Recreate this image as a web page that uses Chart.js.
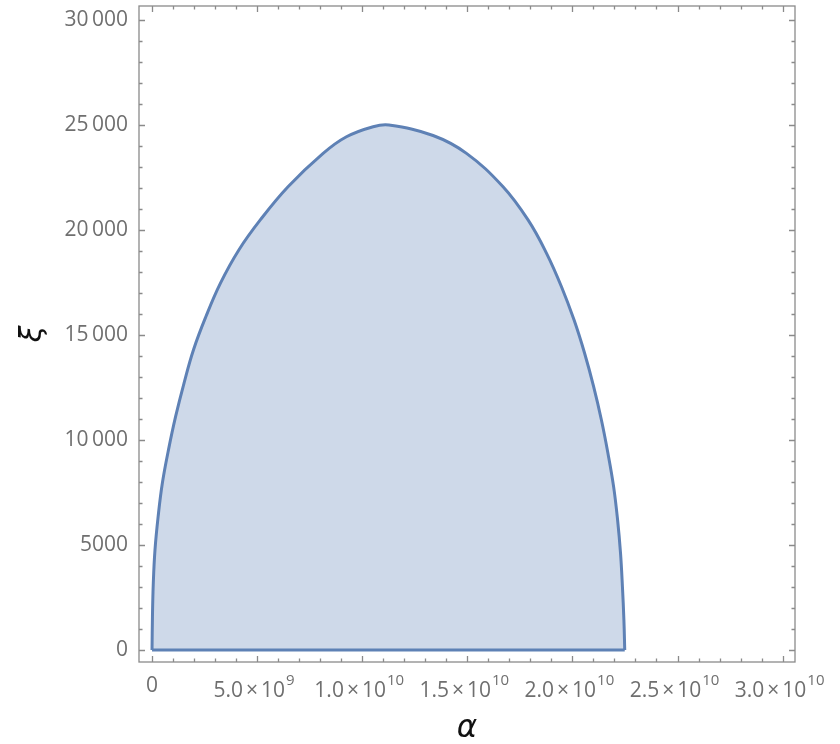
<!DOCTYPE html>
<html>
<head>
<meta charset="utf-8">
<script src="https://cdn.jsdelivr.net/npm/chart.js@4/dist/chart.umd.min.js"></script>
<style>
  html, body { margin: 0; padding: 0; background: #fff; }
  #wrap { width: 840px; height: 744px; }
</style>
</head>
<body>
<div id="wrap"><canvas id="chart"></canvas></div>
<script>
// boundary of the region, alpha in units of 1e9
const alphaVals = [0, 0.02, 0.06, 0.14, 0.29, 0.49, 0.78, 1.12, 1.52, 1.97, 2.56, 3.25, 4.13, 5.15, 6.47, 8.14, 9.25, 10.52, 11.27,
  13.37, 14.96, 16.70, 17.89, 18.77, 19.48, 20.08, 20.58, 21.01, 21.38, 21.69, 21.96, 22.15, 22.29, 22.38, 22.45, 22.49];
const xiVals = [0, 1590, 3180, 4760, 6350, 7940, 9520, 11110, 12700, 14290, 15870, 17460, 19050, 20480, 22060, 23650, 24440, 24920, 25000,
  24500, 23650, 22060, 20480, 18890, 17300, 15710, 14130, 12540, 10950, 9370, 7780, 6190, 4600, 3010, 1430, 0];

// axes
const xTicks = [0, 5, 10, 15, 20, 25, 30];
const xMantissa = ["0", "5.0", "1.0", "1.5", "2.0", "2.5", "3.0"];
const xExponent = ["", "9", "10", "10", "10", "10", "10"];
const yTicks = [0, 5000, 10000, 15000, 20000, 25000, 30000];
const yLabels = ["0", "5000", "10\u2009000", "15\u2009000", "20\u2009000", "25\u2009000", "30\u2009000"];
const xMinor = 1, yMinor = 1000;

const lineColor = "#5e81b5";
const fillColor = "rgba(94,129,181,0.3)";
const frameColor = "#8a8a8a";
const labelColor = "#6f6f6f";
const tickFont = "'Open Sans', 'Liberation Sans', sans-serif";

const curve = alphaVals.map((a, i) => ({ x: a, y: xiVals[i] }));
const baseLine = [{ x: alphaVals[0], y: 0 }, { x: alphaVals[alphaVals.length - 1], y: 0 }];

const framePlugin = {
  id: "frame",
  afterDraw(chart) {
    const ctx = chart.ctx;
    const a = chart.chartArea;
    const xs = chart.scales.x, ys = chart.scales.y;
    ctx.save();
    ctx.strokeStyle = frameColor;
    ctx.lineWidth = 1.3;
    ctx.strokeRect(a.left, a.top, a.right - a.left, a.bottom - a.top);

    ctx.beginPath();
    for (let v = 0; v <= 30 + 1e-9; v += xMinor) {
      const px = Math.round(xs.getPixelForValue(v)) + 0.5;
      const len = (v % 5 === 0) ? 6 : 3.5;
      ctx.moveTo(px, a.bottom); ctx.lineTo(px, a.bottom - len);
      ctx.moveTo(px, a.top); ctx.lineTo(px, a.top + len);
    }
    for (let v = 0; v <= 30000; v += yMinor) {
      const py = Math.round(ys.getPixelForValue(v)) + 0.5;
      const len = (v % 5000 === 0) ? 6 : 3.5;
      ctx.moveTo(a.left, py); ctx.lineTo(a.left + len, py);
      ctx.moveTo(a.right, py); ctx.lineTo(a.right - len, py);
    }
    ctx.stroke();

    // x tick labels with superscript exponents
    ctx.fillStyle = labelColor;
    ctx.textBaseline = "alphabetic";
    ctx.textAlign = "left";
    const mainFont = "21px " + tickFont;
    const supFont = "15px " + tickFont;
    xTicks.forEach((v, i) => {
      const px = xs.getPixelForValue(v);
      if (!xExponent[i]) {
        ctx.font = mainFont;
        const w = ctx.measureText(xMantissa[i]).width;
        ctx.fillText(xMantissa[i], px - w / 2, a.bottom + 30);
        return;
      }
      ctx.font = mainFont;
      const w1 = ctx.measureText(xMantissa[i]).width;
      const w2 = ctx.measureText("\u00d7").width;
      const w3 = ctx.measureText("10").width;
      ctx.font = supFont;
      const w4 = ctx.measureText(xExponent[i]).width;
      const gap = 3;
      const total = w1 + gap + w2 + gap + w3 + 1 + w4;
      let x = px - 3 - total / 2;
      const base = a.bottom + 35;
      ctx.font = mainFont;
      ctx.fillText(xMantissa[i], x, base); x += w1 + gap;
      ctx.fillText("\u00d7", x, base); x += w2 + gap;
      ctx.fillText("10", x, base); x += w3 + 1;
      ctx.font = supFont;
      ctx.fillText(xExponent[i], x, base - 12);
    });
    ctx.restore();
  }
};

new Chart(document.getElementById("chart"), {
  type: "line",
  data: {
    datasets: [
      {
        data: curve,
        borderColor: lineColor,
        borderWidth: 3,
        backgroundColor: fillColor,
        fill: "origin",
        tension: 0.4,
        pointRadius: 0,
        pointHoverRadius: 0
      },
      {
        data: baseLine,
        borderColor: lineColor,
        borderWidth: 3,
        fill: false,
        tension: 0,
        pointRadius: 0,
        pointHoverRadius: 0
      }
    ]
  },
  options: {
    responsive: true,
    maintainAspectRatio: false,
    animation: false,
    layout: { padding: { left: 0, right: 45, top: 6, bottom: 0 } },
    plugins: { legend: { display: false }, tooltip: { enabled: false } },
    scales: {
      x: {
        type: "linear",
        min: -0.62,
        max: 30.59,
        grid: { display: false, drawTicks: false },
        border: { display: false },
        ticks: { display: false },
        title: {
          display: true,
          text: "\u03b1",
          color: "#111",
          font: { family: "'DejaVu Sans', sans-serif", size: 31, style: "italic", lineHeight: 1 },
          padding: { top: 0, bottom: 0 }
        },
        afterFit: s => { s.height = 82; s.paddingLeft = 0; s.paddingRight = 0; }
      },
      y: {
        type: "linear",
        min: -571,
        max: 30667,
        grid: { display: false, drawTicks: false },
        border: { display: false },
        afterBuildTicks: s => { s.ticks = yTicks.map(v => ({ value: v })); },
        ticks: {
          color: labelColor,
          padding: 11,
          font: { family: tickFont, size: 21 },
          callback: v => yLabels[yTicks.indexOf(v)]
        },
        title: {
          display: true,
          text: "\u03be",
          color: "#111",
          font: { family: "'DejaVu Sans', sans-serif", size: 30, style: "italic", lineHeight: 1 },
          padding: { top: 18, bottom: 0 }
        },
        afterFit: s => { s.width = 139; s.paddingTop = 0; s.paddingBottom = 0; }
      }
    }
  },
  plugins: [framePlugin]
});
</script>
</body>
</html>
